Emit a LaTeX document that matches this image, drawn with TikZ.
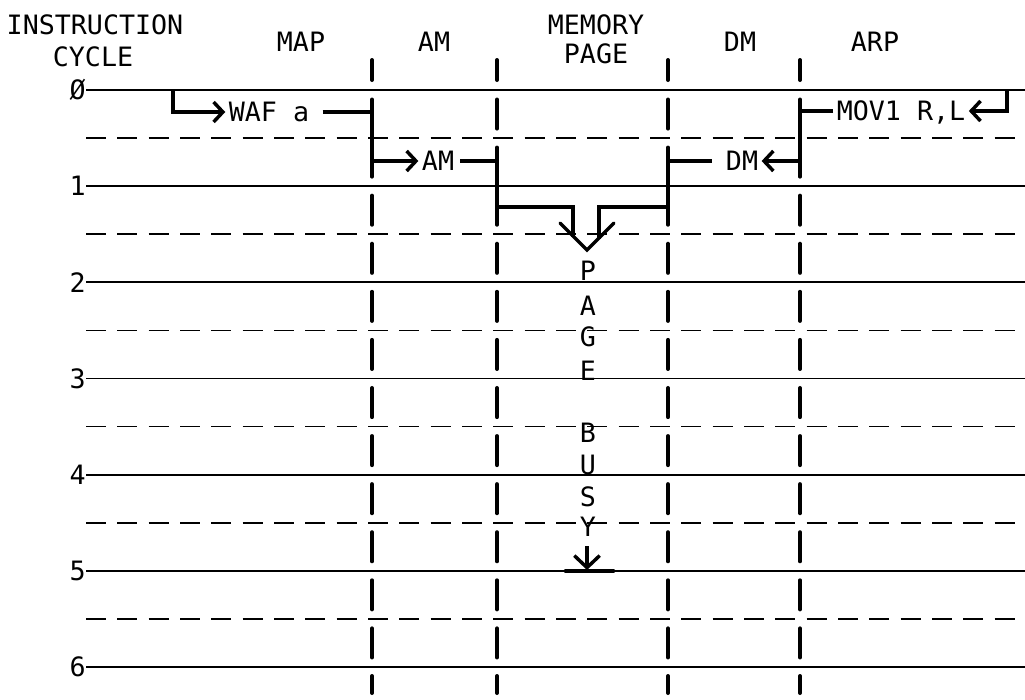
\documentclass[tikz,border=0pt]{standalone}
\usepackage{fontspec}
\newfontfamily\monofont{DejaVu Sans Mono}
\usetikzlibrary{arrows.meta,calc}
\begin{document}
\begin{tikzpicture}[x=0.75pt,y=-0.75pt,
  lab/.style={font=\monofont\fontsize{20pt}{24pt}\selectfont, inner xsep=0pt, inner ysep=0pt, text height=14.6pt, text depth=0pt},
  flowlab/.style={lab, inner xsep=2.5pt},
  grid/.style={line width=1.3pt},
  half/.style={line width=1.3pt, dash pattern=on 15pt off 8.5pt},
  sep/.style={line width=3pt, line cap=round},
  flow/.style={line width=2.6pt, line join=miter},
  arr/.style={flow, -{Straight Barb[length=7pt,width=15pt]}},
  bigarr/.style={flow, -{Straight Barb[length=9pt,width=19pt]}},
]
\fill[white] (0,0) rectangle (1025,700);
\useasboundingbox (0,0) rectangle (1025,700);

% grid lines
\foreach \k in {0,...,6} { \draw[grid] (86,{90+96.17*\k}) -- (1025,{90+96.17*\k}); }
\foreach \k in {0,...,5} { \draw[half] (86,{138.08+96.17*\k}) -- (1025,{138.08+96.17*\k}); }

% cycle labels
\foreach \t [count=\k from 0] in {Ø,1,2,3,4,5,6}
  \node[lab, anchor=east] (cyc\k) at (86,{90+96.17*\k}) {\t};

% column separators
\foreach \x in {372,497,668,800} {
  \draw[sep] (\x,60) -- (\x,80);
  \foreach \k in {0,...,11} \draw[sep] (\x,{90+48.08*\k+9.5}) -- (\x,{90+48.08*(\k+1)-9.5});
  \draw[sep] (\x,676) -- (\x,693);
}
\coordinate (c1) at (372,0);
\coordinate (c2) at (497,0);
\coordinate (c3) at (668,0);
\coordinate (c4) at (800,0);

% headers
\node[lab] (hinstr) at (95,25) {INSTRUCTION};
\node[lab] (hcycle) at (93,57) {CYCLE};
\node[lab] (hmap) at (301,42) {MAP};
\node[lab] (ham) at (434,42) {AM};
\node[lab] (hmem) at (596,25) {MEMORY};
\node[lab] (hpage) at (596,54) {PAGE};
\node[lab] (hdm) at (740,42) {DM};
\node[lab] (harp) at (875,42) {ARP};

% left flow
\coordinate (s0) at (173,90);
\node[flowlab] (waf) at (269,112) {WAF a};
\draw[arr] (s0) |- (waf.west);
\node[flowlab] (am) at (438,161) {AM};
\draw[arr] ([xshift=7.5pt]waf.east) -| (c1 |- am.west) -- (am.west);
\coordinate (vl) at (573,207);
\coordinate (vr) at (599,207);
\coordinate (vtip) at (587,250);
\draw[flow] ([xshift=2pt]am.east) -| (c2 |- vl) -- (vl) -- ($(vl)+(0,30)$);

% right flow
\coordinate (s1) at (1007,90);
\node[flowlab] (mov) at (901,111) {MOV1 R,L};
\draw[arr] (s1) |- (mov.east);
\node[flowlab] (dm) at (742,161) {DM};
\draw[arr] (mov.west) -| (c4 |- dm.east) -- (dm.east);
\draw[flow] ([xshift=-8pt]dm.west) -| (c3 |- vr) -- (vr) -- ($(vr)+(0,32)$);

% merged arrowhead
\draw[flow, line cap=round] ($(vtip)+(-27,-27)$) -- (vtip) -- ($(vtip)+(27,-27)$);

% PAGE BUSY
\node[lab] (pb1) at (588,271) {P};
\node[lab] (pb2) at (588,306) {A};
\node[lab] (pb3) at (588,337) {G};
\node[lab] (pb4) at (588,371) {E};
\node[lab] (pb5) at (588,433) {B};
\node[lab] (pb6) at (588,465) {U};
\node[lab] (pb7) at (588,497) {S};
\node[lab] (pb8) at (588,527) {Y};

% end stop
\coordinate (stop) at (587,570);
\coordinate (stopL) at (566,571);
\coordinate (stopR) at (613,571);
\draw[line width=3.6pt, line cap=round] (stopL) -- (stopR);
\draw[bigarr] ($(stop)+(0,-24)$) -- (stop);
\end{tikzpicture}
\end{document}
